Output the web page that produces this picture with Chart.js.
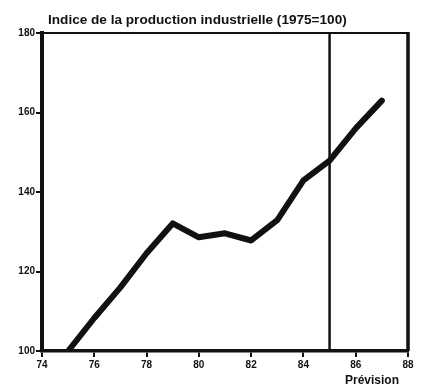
<!DOCTYPE html>
<html>
<head>
<meta charset="utf-8">
<script src="https://cdn.jsdelivr.net/npm/chart.js@4/dist/chart.umd.min.js"></script>
<style>
  html, body { margin: 0; padding: 0; background: #fff; }
  #wrap { width: 426px; height: 391px; }
</style>
</head>
<body>
<div id="wrap"><canvas id="chart"></canvas></div>
<script>
// Indice de la production industrielle (1975=100), with a forecast marker.

const years = [75, 76, 77, 78, 79, 80, 81, 82, 83, 84, 85, 86, 87];
const indice = [100, 108.3, 116, 124.6, 132.1, 128.6, 129.6, 127.8, 132.9, 142.9, 147.9, 156, 163];
const previsionYear = 85;
const xTicks = [74, 76, 78, 80, 82, 84, 86, 88];
const yTicks = [100, 120, 140, 160, 180];

const titleText = "Indice de la production industrielle (1975=100)";
const previsionLabel = "Prévision";

const INK = "#111";
const tickFont = { family: "'Liberation Sans', Arial, sans-serif", size: 10, weight: "bold" };

// Frame on top/right plus the two free-floating texts.
const decor = {
  id: "decor",
  afterDraw(c) {
    const { ctx, chartArea: a } = c;
    ctx.save();
    ctx.strokeStyle = INK;
    ctx.lineWidth = 2;
    ctx.beginPath();
    ctx.moveTo(a.left, a.top);
    ctx.lineTo(a.right, a.top);
    ctx.stroke();
    ctx.lineWidth = 3.5;
    ctx.beginPath();
    ctx.moveTo(a.right, a.top - 1);
    ctx.lineTo(a.right, a.bottom);
    ctx.stroke();

    ctx.fillStyle = INK;
    ctx.textBaseline = "middle";
    ctx.font = "bold 13.6px 'Liberation Sans', Arial, sans-serif";
    ctx.textAlign = "left";
    ctx.fillText(titleText, a.left + 6, 20, 300);
    ctx.font = "bold 12px 'Liberation Sans', Arial, sans-serif";
    ctx.textAlign = "center";
    ctx.fillText(previsionLabel, a.right - 36, 381);
    ctx.restore();
  },
};

new Chart(document.getElementById("chart"), {
  type: "line",
  data: {
    datasets: [
      {
        data: years.map((y, i) => ({ x: y, y: indice[i] })),
        borderColor: INK,
        borderWidth: 6,
        borderCapStyle: "round",
        borderJoinStyle: "round",
        pointRadius: 0,
        tension: 0,
        clip: 0,
      },
      {
        data: [{ x: previsionYear, y: yTicks[0] }, { x: previsionYear, y: yTicks[yTicks.length - 1] }],
        borderColor: INK,
        borderWidth: 2.5,
        pointRadius: 0,
        clip: 0,
      },
    ],
  },
  options: {
    responsive: true,
    maintainAspectRatio: false,
    animation: false,
    layout: { padding: { top: 33, right: 18, left: 0, bottom: 0 } },
    plugins: { legend: { display: false }, tooltip: { enabled: false }, title: { display: false } },
    scales: {
      x: {
        type: "linear",
        min: xTicks[0],
        max: xTicks[xTicks.length - 1],
        afterBuildTicks: (s) => { s.ticks = xTicks.map((v) => ({ value: v })); },
        afterFit: (s) => { s.height = 40; },
        ticks: { color: INK, font: tickFont, padding: 2, maxRotation: 0 },
        grid: { drawOnChartArea: false, drawTicks: true, tickLength: 6, color: INK, lineWidth: 2 },
        border: { color: INK, width: 3.5 },
      },
      y: {
        min: yTicks[0],
        max: yTicks[yTicks.length - 1],
        afterBuildTicks: (s) => { s.ticks = yTicks.map((v) => ({ value: v })); },
        afterFit: (s) => { s.width = 42; },
        ticks: { color: INK, font: tickFont, padding: 1 },
        grid: { drawOnChartArea: false, drawTicks: true, tickLength: 6, color: INK, lineWidth: 2 },
        border: { color: INK, width: 4 },
      },
    },
  },
  plugins: [decor],
});
</script>
</body>
</html>
